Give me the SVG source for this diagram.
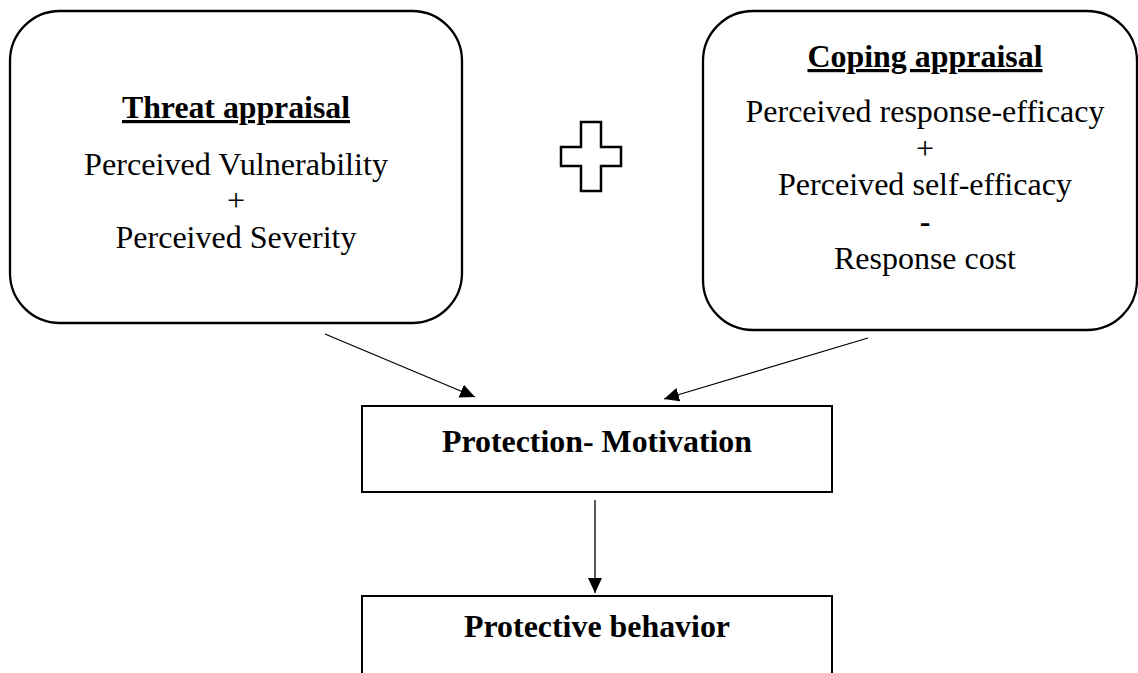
<svg xmlns="http://www.w3.org/2000/svg" width="1138" height="673" viewBox="0 0 1138 673">
<style>
text{font-family:'Liberation Serif','Times New Roman','DejaVu Serif',serif;font-size:32px;fill:#000;text-anchor:middle}
.b{font-weight:bold}
.u{text-decoration:underline}
.box{fill:#fff;stroke:#000;stroke-width:2.3}
.sq{fill:#fff;stroke:#000;stroke-width:2}
.con{stroke:#000;stroke-width:1.3;fill:none}
</style>
<defs>
<marker id="ah" markerUnits="userSpaceOnUse" markerWidth="16" markerHeight="14" refX="15" refY="7" orient="auto">
<path d="M0,0 L15,7 L0,14 z" fill="#000"/>
</marker>
</defs>
<rect width="1138" height="673" fill="#fff"/>
<g id="threat">
<rect class="box" x="10" y="11" width="452" height="312" rx="50" ry="50"/>
<text class="b u" x="236" y="118" textLength="228" lengthAdjust="spacingAndGlyphs">Threat appraisal</text>
<text x="236" y="175" textLength="304" lengthAdjust="spacingAndGlyphs">Perceived Vulnerability</text>
<text x="236" y="211">+</text>
<text x="236" y="248" textLength="241" lengthAdjust="spacingAndGlyphs">Perceived Severity</text>
</g>
<g id="plus">
<polygon points="581,122 601,122 601,147 621,147 621,166 601,166 601,191 581,191 581,166 561,166 561,147 581,147" fill="#fff" stroke="#000" stroke-width="2.5"/>
</g>
<g id="coping">
<rect class="box" x="703" y="11" width="434" height="319" rx="50" ry="50"/>
<text class="b u" x="925" y="67" textLength="235" lengthAdjust="spacingAndGlyphs">Coping appraisal</text>
<text x="925" y="122" textLength="359" lengthAdjust="spacingAndGlyphs">Perceived response-efficacy</text>
<text x="925" y="159">+</text>
<text x="925" y="195" textLength="294" lengthAdjust="spacingAndGlyphs">Perceived self-efficacy</text>
<text class="b" x="925" y="232">-</text>
<text x="925" y="269" textLength="182" lengthAdjust="spacingAndGlyphs">Response cost</text>
</g>
<g id="motivation">
<rect class="sq" x="362" y="406" width="470" height="86"/>
<text class="b" x="597" y="452" textLength="310" lengthAdjust="spacingAndGlyphs">Protection- Motivation</text>
</g>
<g id="behavior">
<path class="sq" d="M362,680 L362,596 L832,596 L832,680"/>
<text class="b" x="597" y="637" textLength="266" lengthAdjust="spacingAndGlyphs">Protective behavior</text>
</g>
<g id="connectors">
<line class="con" x1="325" y1="334" x2="475" y2="397" marker-end="url(#ah)"/>
<line class="con" x1="868" y1="338" x2="664" y2="399" marker-end="url(#ah)"/>
<line class="con" x1="595" y1="500" x2="595" y2="593" marker-end="url(#ah)"/>
</g>
</svg>
